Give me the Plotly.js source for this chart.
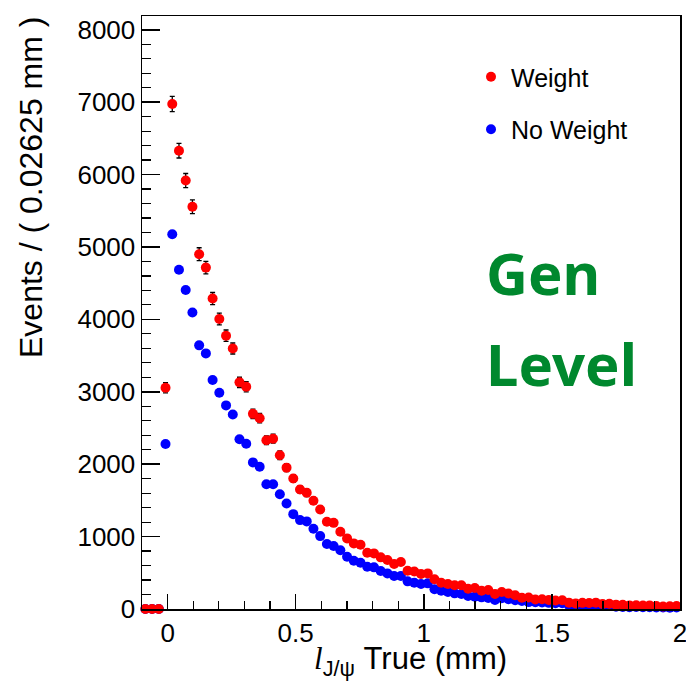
<!DOCTYPE html>
<html>
<head>
<meta charset="utf-8">
<script src="https://cdn.plot.ly/plotly-3.0.1.min.js"></script>
<style>
  html, body { margin: 0; padding: 0; background: #fff; }
  #plot { width: 686px; height: 683px; }
</style>
</head>
<body>
<div id="plot"></div>
<script>
// Histogram binning: 80 bins of 0.02625 mm from -0.1 to 2.0 mm
const binLow = -0.1;
const binHigh = 2.0;
const binWidth = 0.02625;
const nBins = 80;

// Events per bin, weighted sample
const weighted = [
  0, 0, 0, 3055, 6975, 6330, 5917, 5555, 4900, 4715,
  4288, 4005, 3775, 3598, 3130, 3070, 2695, 2635, 2330, 2352,
  2124, 1952, 1802, 1651, 1605, 1494, 1375, 1204, 1190, 1066,
  975, 906, 887, 777, 768, 713, 676, 621, 648, 528,
  519, 483, 492, 410, 363, 345, 327, 327, 280, 290,
  252, 262, 207, 234, 215, 190, 156, 160, 131, 135,
  125, 117, 120, 88, 75, 85, 82, 88, 70, 72,
  60, 58, 50, 52, 48, 50, 40, 35, 38, 40
];

// Statistical errors of the weighted sample
const weightedErr = [
  0, 0, 0, 70, 106, 101, 98, 95, 89, 87,
  83, 80, 78, 76, 71, 70, 66, 65, 61, 62,
  59, 56, 54, 52, 51, 49, 47, 44, 44, 41,
  40, 38, 38, 35, 35, 34, 33, 32, 32, 29,
  29, 28, 28, 26, 24, 24, 23, 23, 21, 22,
  20, 21, 18, 19, 19, 18, 16, 16, 15, 15,
  14, 14, 14, 12, 11, 12, 12, 12, 11, 11,
  10, 10, 9, 9, 9, 9, 8, 8, 8, 8
];

// Events per bin, unweighted sample
const unweighted = [
  0, 0, 0, 2278, 5175, 4685, 4405, 4095, 3641, 3530,
  3162, 2987, 2812, 2686, 2345, 2283, 2025, 1965, 1724, 1724,
  1586, 1458, 1310, 1228, 1210, 1108, 1007, 897, 869, 812,
  721, 666, 639, 583, 575, 524, 492, 455, 455, 382,
  363, 345, 354, 272, 252, 234, 216, 207, 179, 170,
  161, 152, 124, 150, 134, 120, 110, 95, 94, 90,
  85, 80, 80, 50, 45, 48, 45, 50, 40, 40,
  30, 28, 25, 27, 24, 25, 20, 22, 18, 20
];

const xTickVals = [0, 0.5, 1, 1.5, 2];
const xTickText = ['0', '0.5', '1', '1.5', '2'];
const yTickVals = [0, 1000, 2000, 3000, 4000, 5000, 6000, 7000, 8000];
const yTickText = ['0', '1000', '2000', '3000', '4000', '5000', '6000', '7000', '8000'];

const binCenters = [];
for (let i = 0; i < nBins; i++) binCenters.push(binLow + binWidth * (i + 0.5));

const FONT = 'Liberation Sans, Arial, Helvetica, sans-serif';

const traces = [
  {
    name: 'No Weight',
    legendgroup: 'nw',
    legendrank: 2,
    x: binCenters,
    y: unweighted,
    mode: 'markers',
    type: 'scatter',
    cliponaxis: false,
    marker: { color: '#0000ff', size: 10 },
    hoverinfo: 'x+y'
  },
  {
    name: 'Weight',
    legendgroup: 'w',
    legendrank: 1,
    x: binCenters,
    y: weighted,
    mode: 'markers',
    type: 'scatter',
    cliponaxis: false,
    marker: { color: '#ff0000', size: 10 },
    error_y: { type: 'data', array: weightedErr, visible: true, color: '#000000', thickness: 1.3, width: 2.5 },
    hoverinfo: 'x+y'
  }
];

// plot-area geometry used to place the free-standing texts
const L = 142, R = 6, T = 16, B = 74, W = 686, H = 683;
const pw = W - L - R, ph = H - T - B;
const px = v => (v - L) / pw;
const py = v => (H - B - v) / ph;

const layout = {
  width: W,
  height: H,
  margin: { l: L, r: R, t: T, b: B, pad: 0 },
  paper_bgcolor: '#ffffff',
  plot_bgcolor: '#ffffff',
  font: { family: FONT, color: '#000000', size: 26 },
  showlegend: true,
  legend: {
    x: px(471), y: py(54), xanchor: 'left', yanchor: 'top',
    bgcolor: 'rgba(0,0,0,0)',
    font: { family: FONT, size: 25, color: '#000' },
    traceorder: 'grouped',
    tracegroupgap: 17,
    itemclick: false
  },
  xaxis: {
    range: [binLow, binHigh + 0.0004],
    tickvals: xTickVals,
    ticktext: xTickText,
    ticklabeloverflow: 'allow',
    ticks: 'inside',
    ticklen: 15,
    tickwidth: 1.5,
    tickcolor: '#000',
    minor: { dtick: 0.1, tick0: 0, ticks: 'inside', ticklen: 8, tickwidth: 1.2, tickcolor: '#000' },
    showline: true,
    linecolor: '#000',
    linewidth: 1.5,
    mirror: true,
    showgrid: false,
    zeroline: false,
    tickfont: { family: FONT, size: 26 }
  },
  yaxis: {
    range: [0, 8190],
    tickvals: yTickVals,
    ticktext: yTickText,
    ticks: 'inside',
    ticklen: 18,
    tickwidth: 1.5,
    tickcolor: '#000',
    minor: { dtick: 200, tick0: 0, ticks: 'inside', ticklen: 9, tickwidth: 1.2, tickcolor: '#000' },
    showline: true,
    linecolor: '#000',
    linewidth: 1.5,
    mirror: true,
    showgrid: false,
    zeroline: false,
    tickfont: { family: FONT, size: 26 }
  },
  annotations: [
    {
      text: 'Events / ( 0.02625 mm )',
      xref: 'paper', yref: 'paper',
      x: px(31), y: py(188),
      xanchor: 'center', yanchor: 'middle',
      textangle: -90,
      showarrow: false,
      font: { family: FONT, size: 32, color: '#000' }
    },
    {
      text: "<span style=\"font-family:'Liberation Serif',serif\"><i>l</i></span><sub>J/ψ</sub> True (mm)",
      xref: 'paper', yref: 'paper',
      x: px(410), y: py(661),
      xanchor: 'center', yanchor: 'middle',
      showarrow: false,
      font: { family: FONT, size: 31, color: '#000' }
    },
    {
      text: '<b>Gen</b>',
      xref: 'paper', yref: 'paper',
      x: px(484), y: py(272),
      xanchor: 'left', yanchor: 'middle',
      showarrow: false,
      font: { family: 'Noto Sans, Open Sans, sans-serif', size: 58, color: 'rgb(0,136,46)' }
    },
    {
      text: '<b>Level</b>',
      xref: 'paper', yref: 'paper',
      x: px(484), y: py(364),
      xanchor: 'left', yanchor: 'middle',
      showarrow: false,
      font: { family: 'Noto Sans, Open Sans, sans-serif', size: 58, color: 'rgb(0,136,46)' }
    }
  ]
};

Plotly.newPlot('plot', traces, layout, { displayModeBar: false, staticPlot: true });
</script>
</body>
</html>
